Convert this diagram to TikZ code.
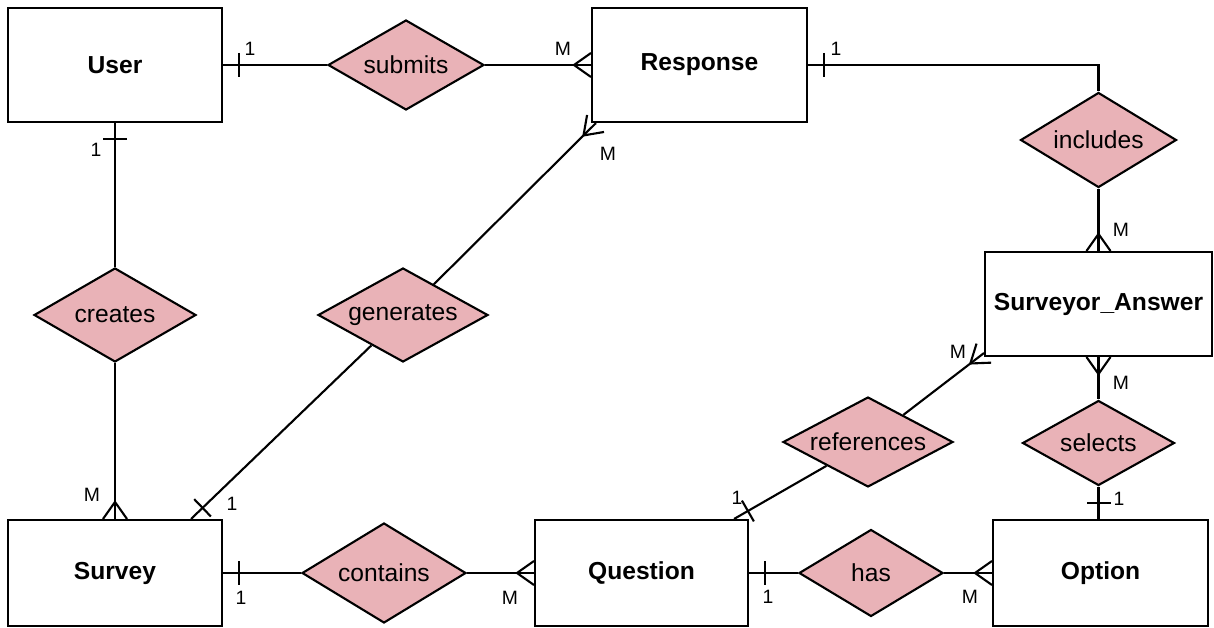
\documentclass[tikz,border=0pt]{standalone}
\usepackage{fontspec}
\setmainfont{Liberation Sans}
\usepackage{tikz}
\usetikzlibrary{shapes.geometric}
\usetikzlibrary{calc}
\usetikzlibrary{decorations,decorations.markings}
\definecolor{relpink}{RGB}{233,178,183}
\tikzstyle{entity}=[draw, line width=1.2pt, rectangle, inner sep=0pt, font=\fontsize{14}{16}\selectfont\bfseries]
\tikzstyle{relation}=[draw, line width=1.2pt, diamond, aspect=1.8, inner sep=0pt, fill=relpink, font=\fontsize{14}{16}\selectfont]
\tikzstyle{card}=[inner sep=0pt, font=\fontsize{11}{13}\selectfont]
\tikzstyle{link}=[line width=1.2pt]
\tikzstyle{manyend}=[postaction={decorate,decoration={markings,mark=at position 1 with {\draw[line width=1.2pt] (-17,0) -- (0,12) (-17,0) -- (0,-12);}}}]
\tikzstyle{manystart}=[postaction={decorate,decoration={markings,mark=at position 0 with {\draw[line width=1.2pt] (17,0) -- (0,12) (17,0) -- (0,-12);}}}]
\tikzstyle{onestart}=[postaction={decorate,decoration={markings,mark=at position 0 with {\draw[line width=1.2pt] (16,-12) -- (16,12);}}}]
\tikzstyle{oneend}=[postaction={decorate,decoration={markings,mark=at position 1 with {\draw[line width=1.2pt] (-16,-12) -- (-16,12);}}}]
\begin{document}
\begin{tikzpicture}[x=0.02cm, y=-0.02cm]
 \useasboundingbox (0,0) rectangle (1214,628);
%
 \node[entity, minimum width=4.28cm, minimum height=2.28cm] (user) at (115,65) {User};
 \node[entity, minimum width=4.3cm, minimum height=2.28cm] (response) at (699.5,65) {Response};
 \node[entity, minimum width=4.54cm, minimum height=2.08cm] (answer) at (1098.5,304) {Surveyor\_Answer};
 \node[entity, minimum width=4.28cm, minimum height=2.12cm] (survey) at (115,573) {Survey};
 \node[entity, minimum width=4.26cm, minimum height=2.12cm] (question) at (641.5,573) {Question};
 \node[entity, minimum width=4.3cm, minimum height=2.12cm] (option) at (1100.5,573) {Option};
%
 \node[relation, minimum width=3.12cm, minimum height=1.8cm] (submits) at (406,65) {submits};
 \node[relation, minimum width=3.12cm, minimum height=1.9cm] (includes) at (1098.5,140) {includes};
 \node[relation, minimum width=3.24cm, minimum height=1.88cm] (creates) at (115,315) {creates};
 \node[relation, minimum width=3.4cm, minimum height=1.88cm] (generates) at (403,315) {generates};
 \node[relation, minimum width=3.4cm, minimum height=1.8cm] (references) at (868,442) {references};
 \node[relation, minimum width=3.04cm, minimum height=1.7cm] (selects) at (1098.5,443) {selects};
 \node[relation, minimum width=3.28cm, minimum height=2cm] (contains) at (384,573) {contains};
 \node[relation, minimum width=2.88cm, minimum height=1.74cm] (has) at (871,573) {has};
%
 \coordinate (surveytop) at ($(survey.north east)+(-32,0)$);
 \coordinate (questiontop) at ($(question.north east)+(-15,0)$);
 \coordinate (responsecorner) at ($(response.south west)+(5,0)$);
 \coordinate (answercorner) at ($(answer.south west)+(0,-4)$);
%
 \draw[link, onestart] (user.east) -- (submits.west);
 \draw[link, manyend] (submits.east) -- (response.west);
 \draw[link, onestart] (response.east) -| (includes.north);
 \draw[link, manyend] (includes.south) -- (answer.north);
 \draw[link, onestart] (user.south) -- (creates.north);
 \draw[link, manyend] (creates.south) -- (survey.north);
 \draw[link, manyend] (generates) -- (responsecorner);
 \draw[link, onestart] (surveytop) -- (generates);
 \draw[link, onestart] (questiontop) -- (references);
 \draw[link, manyend] (references) -- (answercorner);
 \draw[link, manystart] (answer.south) -- (selects.north);
 \draw[link, oneend] (selects.south) -- (selects.south |- option.north);
 \draw[link, onestart] (survey.east) -- (contains.west);
 \draw[link, manyend] (contains.east) -- (question.west);
 \draw[link, onestart] (question.east) -- (has.west);
 \draw[link, manyend] (has.east) -- (option.west);
%
 \node[card] (c1) at (250,49) {1};
 \node[card] (m1) at (563,49) {M};
 \node[card] (c2) at (836,49) {1};
 \node[card] (m2) at (1121,230) {M};
 \node[card] (c3) at (96,150) {1};
 \node[card] (m3) at (92,495) {M};
 \node[card] (m4) at (608,154) {M};
 \node[card] (c4) at (232,504) {1};
 \node[card] (m5) at (958,352) {M};
 \node[card] (c5) at (737,498) {1};
 \node[card] (m6) at (1121,383) {M};
 \node[card] (c6) at (1119,499) {1};
 \node[card] (c7) at (241,598) {1};
 \node[card] (m7) at (510,598) {M};
 \node[card] (c8) at (768,597) {1};
 \node[card] (m8) at (970,597) {M};
\end{tikzpicture}
\end{document}
